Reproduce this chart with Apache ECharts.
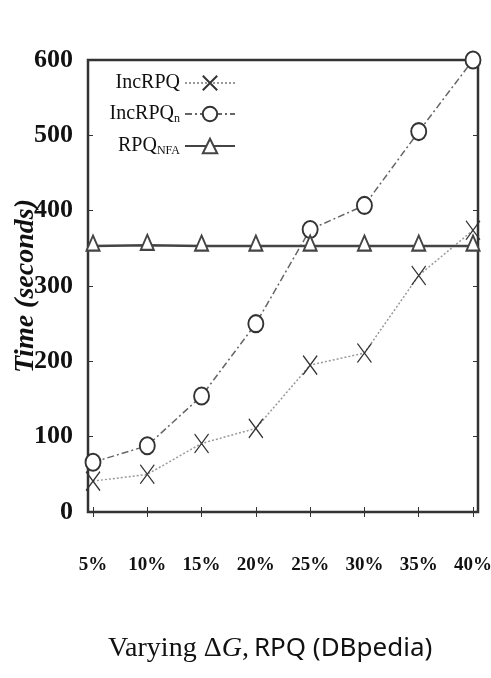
<!DOCTYPE html>
<html>
<head>
<meta charset="utf-8">
<script src="https://cdn.jsdelivr.net/npm/echarts@6/dist/echarts.min.js"></script>
<style>
  html, body { margin: 0; padding: 0; background: #fff; }
  #chart { width: 491px; height: 678px; }
</style>
</head>
<body>
<div id="chart"></div>
<script>
// 数据
const categories = ['5%', '10%', '15%', '20%', '25%', '30%', '35%', '40%'];
const incRPQ = [41, 50, 91, 111, 195, 211, 314, 374];
const incRPQn = [66, 88, 154, 250, 375, 407, 505, 600];
const rpqNFA = [353, 354, 353, 353, 353, 353, 353, 353];
const yTicks = { min: 0, max: 600, interval: 100 };

const serif = '"Liberation Serif", "DejaVu Serif", serif';

const crossPath = 'path://M0,0L10,10M10,0L0,10';

const chart = echarts.init(document.getElementById('chart'));

const option = {
    backgroundColor: '#fff',
    animation: false,
    title: {
        text: '{a|Varying }{d|Δ}{g|G}{a|,} {b|RPQ (DBpedia)}',
        left: 103,
        top: 630,
        textStyle: {
            fontWeight: 'normal',
            rich: {
                a: { fontFamily: serif, fontSize: 28, fontWeight: 'normal', color: '#111' },
                d: { fontFamily: serif, fontSize: 28, fontWeight: 'normal', color: '#111' },
                g: { fontFamily: serif, fontSize: 28, fontWeight: 'normal', fontStyle: 'italic', color: '#111' },
                b: { fontFamily: '"Noto Sans", sans-serif', fontSize: 26, fontWeight: 'normal', color: '#111' }
            }
        }
    },
    legend: {
        orient: 'vertical',
        align: 'right',
        right: 250,
        top: 68,
        itemWidth: 50,
        itemHeight: 18,
        itemGap: 10,
        data: ['IncRPQ', 'IncRPQn', 'RPQNFA'],
        formatter: (name) => {
            if (name === 'IncRPQn') return '{b|IncRPQ}{s|n}';
            if (name === 'RPQNFA') return '{b|RPQ}{s|NFA}';
            return '{b|' + name + '}';
        },
        textStyle: {
            rich: {
                b: { fontFamily: serif, fontSize: 20, color: '#111', lineHeight: 22 },
                s: { fontFamily: serif, fontSize: 12, color: '#111', verticalAlign: 'bottom', lineHeight: 12, padding: [10, 0, 0, 0] }
            }
        }
    },
    grid: [
        // 数据区
        { left: 93, right: 18, top: 60, bottom: 166, outerBoundsMode: 'none' },
        // 外框
        { left: 88, right: 13, top: 60, bottom: 166, outerBoundsMode: 'none', show: true, borderColor: '#333', borderWidth: 2.5, backgroundColor: 'transparent' }
    ],
    xAxis: [
        {
            type: 'category',
            gridIndex: 0,
            data: categories,
            boundaryGap: false,
            axisLine: { show: false },
            axisTick: { show: true, inside: true, length: 5, lineStyle: { color: '#333' } },
            axisLabel: { fontFamily: serif, fontSize: 19, fontWeight: 'bold', color: '#111', margin: 44 }
        },
        {
            type: 'category',
            gridIndex: 0,
            position: 'top',
            data: categories,
            boundaryGap: false,
            axisLine: { show: false },
            axisTick: { show: true, inside: true, length: 5, lineStyle: { color: '#333' } },
            axisLabel: { show: false }
        },
        { type: 'value', gridIndex: 1, show: false }
    ],
    yAxis: [
        {
            type: 'value',
            gridIndex: 0,
            min: yTicks.min,
            max: yTicks.max,
            interval: yTicks.interval,
            offset: 5,
            name: 'Time (seconds)',
            nameLocation: 'middle',
            nameRotate: 90,
            nameGap: 48,
            nameMoveOverlap: false,
            nameTextStyle: { fontFamily: serif, fontSize: 28, fontWeight: 'bold', fontStyle: 'italic', color: '#111' },
            axisLine: { show: false },
            axisTick: { show: true, inside: true, length: 5, lineStyle: { color: '#333' } },
            splitLine: { show: false },
            axisLabel: { fontFamily: serif, fontSize: 26, fontWeight: 'bold', color: '#111', margin: 15 }
        },
        {
            type: 'value',
            gridIndex: 0,
            position: 'right',
            min: yTicks.min,
            max: yTicks.max,
            interval: yTicks.interval,
            offset: 5,
            axisLine: { show: false },
            axisTick: { show: true, inside: true, length: 5, lineStyle: { color: '#333' } },
            splitLine: { show: false },
            axisLabel: { show: false }
        },
        { type: 'value', gridIndex: 1, show: false }
    ],
    series: [
        {
            name: 'IncRPQ',
            type: 'line',
            data: incRPQ,
            symbol: crossPath,
            symbolSize: [14, 19],
            lineStyle: { color: '#999', width: 1.5, type: [2, 2] },
            itemStyle: { color: '#333', borderColor: '#333', borderWidth: 1.3 }
        },
        {
            name: 'IncRPQn',
            type: 'line',
            data: incRPQn,
            symbol: 'emptyCircle',
            symbolSize: [15, 17],
            lineStyle: { color: '#666', width: 1.5, type: [7, 3, 2, 3] },
            itemStyle: { color: '#333', borderWidth: 1.4 }
        },
        {
            name: 'RPQNFA',
            type: 'line',
            data: rpqNFA,
            symbol: 'emptyTriangle',
            symbolSize: [13, 15],
            symbolOffset: [0, -3],
            lineStyle: { color: '#444', width: 2.5 },
            itemStyle: { color: '#444', borderWidth: 1.3 }
        }
    ]
};

chart.setOption(option);
</script>
</body>
</html>
